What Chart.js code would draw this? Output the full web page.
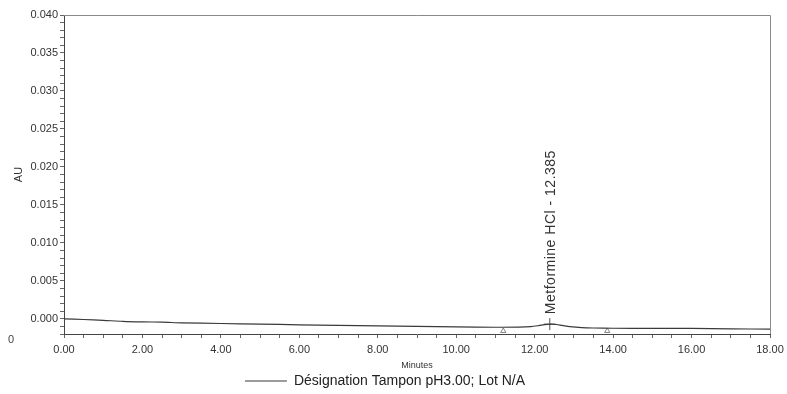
<!DOCTYPE html>
<html>
<head>
<meta charset="utf-8">
<script src="https://cdn.jsdelivr.net/npm/chart.js@4.4.1/dist/chart.umd.min.js"></script>
<style>
  html, body { margin: 0; padding: 0; background: #fff; }
  #wrap { width: 787px; height: 394px; position: relative; }
</style>
</head>
<body>
<div id="wrap"><canvas id="chrom" width="787" height="394"></canvas></div>
<script>
// run time (min) and absorbance (AU)
const minutes = [0, 0.5, 1, 1.5, 2, 2.5, 3, 4, 5, 6, 7, 8, 9, 10, 11, 11.6, 11.9, 12.1, 12.25, 12.4, 12.55, 12.7, 12.9, 13.2, 13.5, 14, 15, 16, 17, 18];
const absorbance = [0, -0.00009, -0.0002, -0.00033, -0.0004, -0.00044, -0.00053, -0.00062, -0.0007, -0.00079, -0.00086, -0.00092, -0.00099, -0.00106, -0.00111, -0.00109, -0.00103, -0.0009, -0.00077, -0.0007, -0.00075, -0.00087, -0.00103, -0.00116, -0.00121, -0.00124, -0.00125, -0.00127, -0.00132, -0.00136];

// integration start / end markers
const baselineX = [11.2, 13.85];
const baselineY = [-0.0016, -0.0016];

// peak apex
const peakName = "Metformine HCl";
const peakTime = 12.385;
const peakAU = -0.0007;

const seriesName = "Désignation Tampon pH3.00; Lot N/A";
const yMin = -0.002, yMax = 0.040;
const xMin = 0, xMax = 18;

const FONT = "'Liberation Sans', Arial, sans-serif";

const trace = minutes.map((m, i) => ({ x: m, y: absorbance[i] }));
const marks = baselineX.map((m, i) => ({ x: m, y: baselineY[i] }));

// frame on top/right, peak label, stray "0" on the left edge
const extras = {
  id: "extras",
  afterDraw(chart) {
    const { ctx, chartArea: a, scales } = chart;
    ctx.save();
    ctx.strokeStyle = "#8a8a8a";
    ctx.lineWidth = 1;
    ctx.beginPath();
    ctx.moveTo(a.left, a.top + 0.5);
    ctx.lineTo(a.right + 0.5, a.top + 0.5);
    ctx.lineTo(a.right + 0.5, a.bottom);
    ctx.stroke();

    const px = scales.x.getPixelForValue(peakTime);
    const py = scales.y.getPixelForValue(peakAU);
    ctx.translate(px + 5, py - 10);
    ctx.rotate(-Math.PI / 2);
    ctx.fillStyle = "#333";
    ctx.font = "14px " + FONT;
    ctx.letterSpacing = "0.5px";
    ctx.textBaseline = "alphabetic";
    ctx.textAlign = "left";
    ctx.fillText(peakName + " - " + peakTime.toFixed(3), 0, 0);
    ctx.restore();

    ctx.save();
    ctx.fillStyle = "#444";
    ctx.font = "11px " + FONT;
    ctx.fillText("0", 8, 340);
    ctx.restore();
  }
};

new Chart(document.getElementById("chrom"), {
  type: "scatter",
  data: {
    datasets: [
      {
        label: seriesName,
        data: trace,
        showLine: true,
        borderColor: "#3a3a3a",
        borderWidth: 1.2,
        pointRadius: 0,
        tension: 0.3
      },
      {
        label: "baseline",
        data: marks,
        showLine: false,
        pointStyle: "triangle",
        pointRadius: 3,
        borderColor: "#666",
        backgroundColor: "#fff",
        borderWidth: 0.8
      },
      {
        label: "apex",
        data: [{ x: peakTime, y: peakAU }],
        showLine: false,
        pointStyle: "cross",
        pointRadius: 6,
        borderColor: "#555",
        borderWidth: 1
      }
    ]
  },
  options: {
    responsive: false,
    animation: false,
    layout: { padding: { left: 0, right: 17, top: 15, bottom: -4 } },
    plugins: {
      tooltip: { enabled: false },
      legend: {
        position: "bottom",
        labels: {
          filter: item => item.datasetIndex === 0,
          usePointStyle: true,
          pointStyle: "line",
          pointStyleWidth: 42,
          padding: 0,
          color: "#222",
          font: { size: 14, family: FONT }
        }
      }
    },
    scales: {
      x: {
        type: "linear",
        min: xMin,
        max: xMax,
        afterFit: s => { s.height = 40; s.paddingLeft = 0; s.paddingRight = 0; },
        border: { color: "#444", width: 1 },
        grid: { drawOnChartArea: false, tickLength: 4, color: "#666" },
        ticks: {
          stepSize: 0.5,
          autoSkip: false,
          maxRotation: 0,
          padding: 5,
          color: "#333",
          font: { size: 11, family: FONT },
          callback: v => (Math.round(v * 10) % 20 === 0 ? v.toFixed(2) : "")
        },
        title: {
          display: true,
          text: "Minutes",
          color: "#333",
          padding: { top: 0, bottom: 3.5 },
          font: { size: 9, family: FONT }
        }
      },
      y: {
        min: yMin,
        max: yMax,
        afterFit: s => { s.width = 64; s.paddingTop = 0; s.paddingBottom = 0; },
        border: { color: "#444", width: 1 },
        grid: { drawOnChartArea: false, tickLength: 4, color: "#666" },
        ticks: {
          stepSize: 0.001,
          autoSkip: false,
          padding: 2,
          color: "#333",
          font: { size: 11, family: FONT },
          callback: v => {
            const k = Math.round(v * 1000);
            return k >= 0 && k % 5 === 0 ? (k / 1000).toFixed(3) : "";
          }
        },
        title: {
          display: true,
          text: "AU",
          color: "#333",
          padding: { top: 12, bottom: 0 },
          font: { size: 11, family: FONT }
        }
      }
    }
  },
  plugins: [extras]
});
</script>
</body>
</html>
